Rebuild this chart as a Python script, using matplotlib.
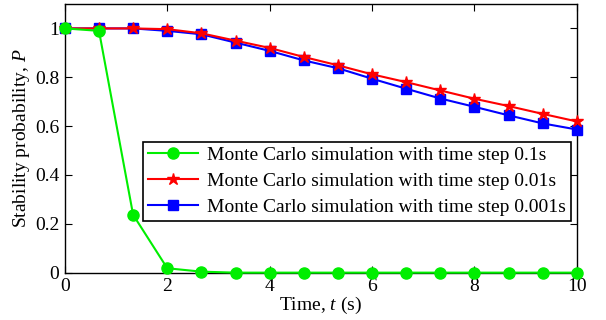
import numpy as np
import matplotlib.pyplot as plt

plt.rcParams['font.family'] = 'Liberation Serif'
plt.rcParams['mathtext.fontset'] = 'custom'
plt.rcParams['mathtext.rm'] = 'Liberation Serif'
plt.rcParams['mathtext.it'] = 'Liberation Serif:italic'

# time points (s)
t = [0, 0.667, 1.333, 2.0, 2.667, 3.333, 4.0, 4.667,
     5.333, 6.0, 6.667, 7.333, 8.0, 8.667, 9.333, 10.0]

p_01 = [1.0, 0.99, 0.237, 0.018, 0.004, 0.0, 0.0, 0.0,
        0.0, 0.0, 0.0, 0.0, 0.0, 0.0, 0.0, 0.0]
p_001 = [1.0, 1.0, 1.0, 0.997, 0.98, 0.95, 0.92, 0.883,
         0.849, 0.812, 0.780, 0.746, 0.712, 0.682, 0.650, 0.619]
p_0001 = [1.0, 1.0, 1.0, 0.99, 0.976, 0.942, 0.908, 0.869,
          0.837, 0.794, 0.753, 0.713, 0.679, 0.644, 0.611, 0.586]

labels = ['Monte Carlo simulation with time step 0.1s',
          'Monte Carlo simulation with time step 0.01s',
          'Monte Carlo simulation with time step 0.001s']

fig = plt.figure(figsize=(6.06, 3.2), dpi=100)
ax = fig.add_axes([0.107, 0.148, 0.845, 0.8395])

lb, = ax.plot(t, p_0001, color='#0000ff', lw=1.5, marker='s', ms=7.5,
              label=labels[2], clip_on=False, zorder=3)
lr, = ax.plot(t, p_001, color='#ff0000', lw=1.5, marker='*', ms=9,
              label=labels[1], clip_on=False, zorder=4)
lg, = ax.plot(t, p_01, color='#00ee00', lw=1.5, marker='o', ms=8,
              label=labels[0], clip_on=False, zorder=5)

ax.set_xlim(0, 10)
ax.set_ylim(0, 1.1)
ax.set_xticks([0, 2, 4, 6, 8, 10])
ax.set_yticks([0, 0.2, 0.4, 0.6, 0.8, 1.0])
ax.set_yticklabels(['0', '0.2', '0.4', '0.6', '0.8', '1'])
ax.tick_params(direction='in', top=True, right=True, length=5, labelsize=14, pad=4)
for s in ax.spines.values():
    s.set_linewidth(1)

ax.set_xlabel('Time, $\\mathit{t}$ (s)', fontsize=14, labelpad=0)
ax.set_ylabel('Stability probability, $\\mathit{P}$', fontsize=14, labelpad=2)

leg = ax.legend(handles=[lg, lr, lb], loc='upper left',
                bbox_to_anchor=(0.152, 0.4875), borderaxespad=0,
                fontsize=14, fancybox=False, framealpha=1, edgecolor='black',
                handlelength=2.6, handletextpad=0.45, labelspacing=0.42,
                borderpad=0.25)
leg.get_frame().set_linewidth(1.2)

fig.savefig('out.png', dpi=100)
